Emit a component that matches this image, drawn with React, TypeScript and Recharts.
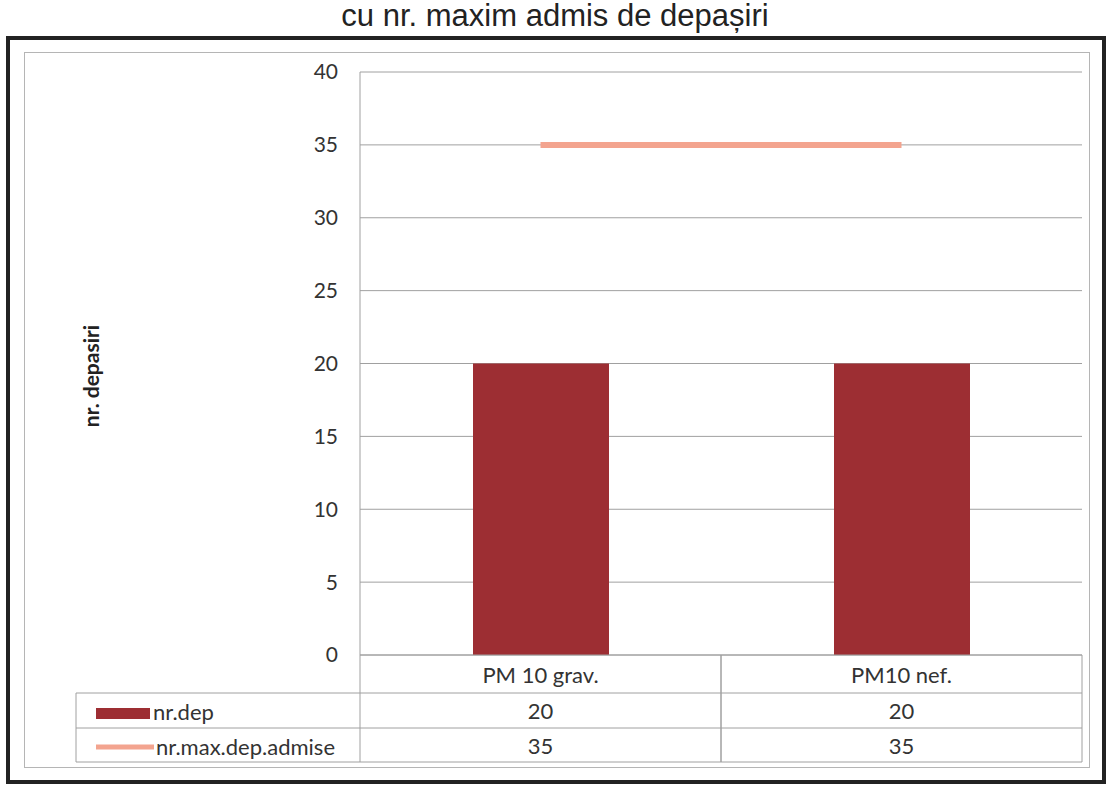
import {Bar, CartesianGrid, ComposedChart, Line, XAxis, YAxis} from 'recharts';

const categories = ['PM 10 grav.', 'PM10 nef.'];
const nrDep = [20, 20];
const nrMaxDepAdmise = [35, 35];
const yTicks = [0, 5, 10, 15, 20, 25, 30, 35, 40];

const seriesNames = {dep: 'nr.dep', max: 'nr.max.dep.admise'};
const COLORS = {dep: '#9d2e33', max: '#f3a48f', grid: '#a0a0a0', text: '#333'};

const CHART_W = 1110;
const CHART_H = 800;
const MARGIN = {top: 72, right: 28, bottom: 0, left: 0};
const Y_WIDTH = 360;
const BAND = (CHART_W - MARGIN.right - Y_WIDTH) / categories.length;
const LEGEND_LEFT = 76;
const FONT = 'Lato, "Open Sans", sans-serif';
const TABLE_FONT = 22;

const data = categories.map((name, i) => ({name, dep: nrDep[i], max: nrMaxDepAdmise[i]}));

function TableTick(props: any) {
    const {x, y, payload, index} = props;
    const left = x - BAND / 2;
    const right = x + BAND / 2;
    const r1 = y + 38;
    const r2 = y + 73;
    const r3 = y + 107;
    const row = data[index];
    const line = {stroke: COLORS.grid, strokeWidth: 1};
    const txt = {fontSize: TABLE_FONT, fill: COLORS.text, fontFamily: FONT};
    return (
        <g>
            <line x1={left} y1={y} x2={left} y2={r3} {...line}/>
            <line x1={right} y1={y} x2={right} y2={r3} {...line}/>
            <line x1={left} y1={r1} x2={right} y2={r1} {...line}/>
            <line x1={left} y1={r2} x2={right} y2={r2} {...line}/>
            <line x1={left} y1={r3} x2={right} y2={r3} {...line}/>
            <text x={x} y={y + 28} textAnchor="middle" {...txt}>{payload.value}</text>
            <text x={x} y={r1 + 26} textAnchor="middle" {...txt}>{row.dep}</text>
            <text x={x} y={r2 + 26} textAnchor="middle" {...txt}>{row.max}</text>
            {index === 0 && (
                <g>
                    <line x1={LEGEND_LEFT} y1={r1} x2={left} y2={r1} {...line}/>
                    <line x1={LEGEND_LEFT} y1={r2} x2={left} y2={r2} {...line}/>
                    <line x1={LEGEND_LEFT} y1={r3} x2={left} y2={r3} {...line}/>
                    <line x1={LEGEND_LEFT} y1={r1} x2={LEGEND_LEFT} y2={r3} {...line}/>
                    <rect x={LEGEND_LEFT + 20} y={r1 + 15} width={54} height={11} fill={COLORS.dep}/>
                    <text x={LEGEND_LEFT + 77} y={r1 + 27} {...txt}>{seriesNames.dep}</text>
                    <line x1={LEGEND_LEFT + 20} y1={r2 + 19} x2={LEGEND_LEFT + 78} y2={r2 + 19} stroke={COLORS.max} strokeWidth={5}/>
                    <text x={LEGEND_LEFT + 80} y={r2 + 27} {...txt}>{seriesNames.max}</text>
                </g>
            )}
        </g>
    );
}

function YLabel() {
    const cx = 90;
    const cy = 376;
    return (
        <text x={cx} y={cy} transform={`rotate(-90, ${cx}, ${cy})`} textAnchor="middle" dominantBaseline="central"
              fontSize={21} fontWeight="bold" fill="#222" fontFamily={FONT}>nr. depasiri</text>
    );
}

export default function App() {
    return (
        <div style={{position: 'absolute', left: 0, top: 0, width: CHART_W, height: CHART_H, background: '#fff'}}>
            <div style={{
                position: 'absolute', left: 0, right: 0, top: -2, textAlign: 'center',
                fontFamily: '"Liberation Sans", Arial, sans-serif', fontSize: 31, color: '#222',
            }}>
                cu nr. maxim admis de depașiri
            </div>
            <div style={{
                position: 'absolute', left: 6, top: 36, width: 1092, height: 740,
                border: '4px solid #222', boxSizing: 'content-box',
            }}/>
            <div style={{
                position: 'absolute', left: 24, top: 52, width: 1064, height: 714,
                border: '1px solid #b5b5b5',
            }}/>
            <div style={{position: 'absolute', left: 0, top: 0}}>
                <ComposedChart width={CHART_W} height={CHART_H} data={data} margin={MARGIN}>
                    <CartesianGrid vertical={false} stroke={COLORS.grid}/>
                    <XAxis dataKey="name" height={CHART_H - 655} tickLine={false} tickSize={0} tickMargin={0}
                           axisLine={{stroke: COLORS.grid}} tick={<TableTick/>} interval={0}/>
                    <YAxis width={Y_WIDTH} domain={[0, 40]} ticks={yTicks} tickLine={false} tickMargin={16}
                           axisLine={{stroke: COLORS.grid}}
                           tick={{fontSize: 21, fill: COLORS.text, fontFamily: FONT}}
                           label={<YLabel/>}/>
                    <Bar dataKey="dep" name={seriesNames.dep} fill={COLORS.dep} barSize={136} isAnimationActive={false}/>
                    <Line type="linear" dataKey="max" name={seriesNames.max} stroke={COLORS.max} strokeWidth={6}
                          dot={false} activeDot={false} isAnimationActive={false}/>
                </ComposedChart>
            </div>
        </div>
    );
}
